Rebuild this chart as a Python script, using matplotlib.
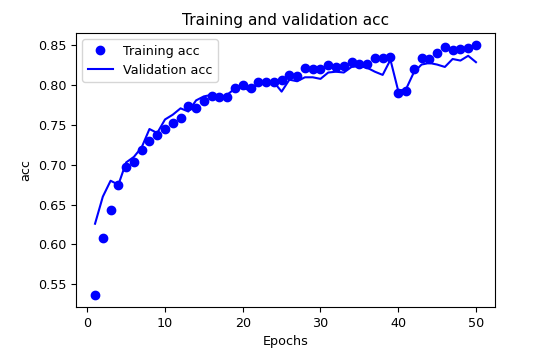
import matplotlib
matplotlib.use('Agg')
import matplotlib.pyplot as plt

# accuracy per epoch
train_acc = [0.537, 0.608, 0.643, 0.675, 0.697, 0.703, 0.719, 0.730, 0.737, 0.745,
             0.753, 0.759, 0.774, 0.772, 0.780, 0.787, 0.785, 0.785, 0.797, 0.800,
             0.797, 0.804, 0.804, 0.804, 0.806, 0.813, 0.812, 0.822, 0.820, 0.821,
             0.825, 0.823, 0.824, 0.829, 0.827, 0.827, 0.834, 0.834, 0.835, 0.790,
             0.793, 0.820, 0.834, 0.833, 0.840, 0.848, 0.844, 0.846, 0.847, 0.850]
val_acc = [0.626, 0.660, 0.680, 0.675, 0.703, 0.710, 0.722, 0.745, 0.740, 0.757,
           0.763, 0.771, 0.767, 0.781, 0.786, 0.788, 0.784, 0.788, 0.796, 0.797,
           0.793, 0.802, 0.802, 0.804, 0.792, 0.807, 0.805, 0.810, 0.810, 0.808,
           0.816, 0.817, 0.816, 0.823, 0.824, 0.822, 0.817, 0.813, 0.832, 0.793,
           0.795, 0.816, 0.826, 0.828, 0.826, 0.823, 0.833, 0.831, 0.837, 0.829]
epochs = list(range(1, len(train_acc) + 1))

plt.rcParams['font.size'] = 9.2

fig = plt.figure(figsize=(5.54, 3.57), dpi=100)
ax = fig.add_axes([76 / 554, 1 - 307 / 357, (495 - 76) / 554, (307 - 33) / 357])

ax.plot(epochs, train_acc, 'bo', label='Training acc')
ax.plot(epochs, val_acc, 'b', label='Validation acc')
ax.set_title('Training and validation acc')
ax.set_xlabel('Epochs')
ax.set_ylabel('acc')
ax.legend()

fig.savefig('out.png', dpi=100)
